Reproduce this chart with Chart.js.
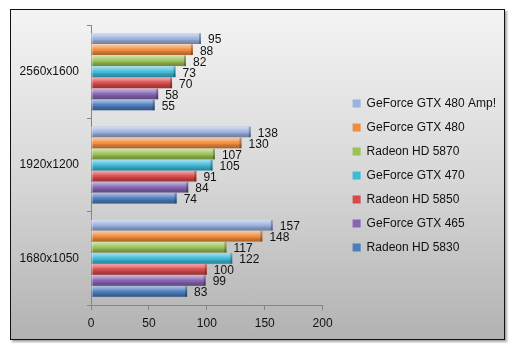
<!DOCTYPE html>
<html>
<head>
<meta charset="utf-8">
<script src="https://cdn.jsdelivr.net/npm/chart.js@4.4.1/dist/chart.umd.min.js"></script>
<style>
  html, body { margin: 0; padding: 0; background: #ffffff; }
  #frame {
    position: absolute; left: 10px; top: 9px; width: 495px; height: 331px;
    box-sizing: border-box; border: 1.5px solid #111;
    background: linear-gradient(to bottom, #f4f4f4 0%, #d8d8d8 50%, #b2b2b2 100%);
    box-shadow: 2px 2px 2px rgba(0,0,0,0.35);
  }
  #c { position: absolute; left: 0; top: 0; }
</style>
</head>
<body>
<div id="frame"><canvas id="c" width="492" height="328"></canvas></div>
<script>
const categories = ['2560x1600', '1920x1200', '1680x1050'];
const seriesNames = ['GeForce GTX 480 Amp!', 'GeForce GTX 480', 'Radeon HD 5870', 'GeForce GTX 470', 'Radeon HD 5850', 'GeForce GTX 465', 'Radeon HD 5830'];
const gtx480amp = [95, 138, 157];
const gtx480 = [88, 130, 148];
const hd5870 = [82, 107, 117];
const gtx470 = [73, 105, 122];
const hd5850 = [70, 91, 100];
const gtx465 = [58, 84, 99];
const hd5830 = [55, 74, 83];
const xTicks = [0, 50, 100, 150, 200];
const colors = ['#9CB2DE', '#F28C3C', '#9BC255', '#3DBAD9', '#D9494A', '#8665B2', '#4C7DBE'];
const seriesValues = [gtx480amp, gtx480, hd5870, gtx470, hd5850, gtx465, hd5830];

const FONT = 'Liberation Sans';

const bevel = {
  id: 'bevel',
  afterDatasetDraw(chart, args) {
    const ctx = chart.ctx;
    const meta = args.meta;
    meta.data.forEach(el => {
      const top = el.y - el.height / 2, h = el.height;
      const left = Math.min(el.base, el.x), w = Math.abs(el.x - el.base);
      const g = ctx.createLinearGradient(0, top, 0, top + h);
      g.addColorStop(0, 'rgba(255,255,255,0.55)');
      g.addColorStop(0.3, 'rgba(255,255,255,0.25)');
      g.addColorStop(0.5, 'rgba(255,255,255,0)');
      g.addColorStop(0.65, 'rgba(0,0,0,0.12)');
      g.addColorStop(1, 'rgba(0,0,0,0.3)');
      ctx.save();
      ctx.fillStyle = g;
      ctx.fillRect(left, top, w, h);
      ctx.fillStyle = 'rgba(0,0,0,0.25)';
      ctx.fillRect(left + w - 2, top, 2, h);
      ctx.fillStyle = 'rgba(255,255,255,0.3)';
      ctx.fillRect(left, top, 1.5, h);
      ctx.restore();
    });
  }
};

const valueLabels = {
  id: 'valueLabels',
  afterDatasetsDraw(chart) {
    const ctx = chart.ctx;
    ctx.save();
    ctx.font = '12px "' + FONT + '"';
    ctx.fillStyle = '#111';
    ctx.textAlign = 'left';
    ctx.textBaseline = 'middle';
    chart.data.datasets.forEach((ds, i) => {
      const meta = chart.getDatasetMeta(i);
      meta.data.forEach((el, j) => {
        ctx.fillText(String(ds.data[j]), el.x + 7, el.y + 1.5);
      });
    });
    ctx.restore();
  }
};

const legendShift = {
  id: 'legendShift',
  afterLayout(chart) {
    const lg = chart.legend;
    if (!lg) return;
    const w = lg.right - lg.left;
    lg.left = chart.chartArea.right + 18;
    lg.right = lg.left + w;
    lg.top -= 5;
    lg.bottom -= 5;
  }
};

new Chart(document.getElementById('c'), {
  type: 'bar',
  data: {
    labels: categories,
    datasets: seriesNames.map((n, i) => ({
      label: n,
      data: seriesValues[i],
      backgroundColor: colors[i],
      borderWidth: 0,
      categoryPercentage: 0.83,
      barPercentage: 0.96
    }))
  },
  options: {
    indexAxis: 'y',
    responsive: false,
    animation: false,
    devicePixelRatio: 1,
    layout: { padding: { top: 13, right: 15, left: 0, bottom: 0 } },
    scales: {
      x: {
        min: 0, max: 200,
        afterBuildTicks(scale) { scale.ticks = xTicks.map(v => ({ value: v })); },
        grid: { drawOnChartArea: false, drawTicks: true, tickLength: 5, color: '#858585' },
        border: { display: true, color: '#858585' },
        ticks: { color: '#111', font: { family: FONT, size: 12 }, padding: 6 },
        afterFit(scale) { scale.height = 33; }
      },
      y: {
        grid: { drawOnChartArea: false, drawTicks: true, tickLength: 4, color: '#858585', offset: true },
        border: { display: true, color: '#858585' },
        ticks: { color: '#111', font: { family: FONT, size: 12 }, padding: 8 },
        afterFit(scale) { scale.width = 80; }
      }
    },
    plugins: {
      legend: {
        position: 'right',
        align: 'center',
        maxWidth: 260,
        labels: {
          boxWidth: 8, boxHeight: 8, padding: 12,
          color: '#111',
          font: { family: FONT, size: 12 }
        }
      },
      tooltip: { enabled: false }
    }
  },
  plugins: [bevel, valueLabels, legendShift]
});
</script>
</body>
</html>
